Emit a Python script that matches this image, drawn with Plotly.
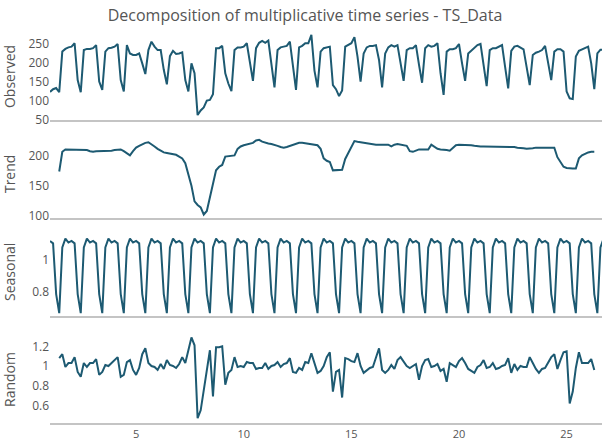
import plotly.graph_objects as go

start = 1
frequency = 7

observed = [124, 131, 134, 123, 230, 237, 241, 243, 252, 155,
            123, 234, 237, 237, 239, 247, 151, 129, 230, 239,
            240, 243, 250, 155, 125, 247, 225, 221, 221, 225,
            199, 171, 234, 256, 243, 234, 234, 182, 144, 218,
            232, 224, 225, 228, 155, 125, 199, 173, 63, 75,
            83, 101, 103, 118, 239, 239, 245, 173, 146, 126,
            234, 241, 241, 243, 252, 199, 153, 239, 253, 258,
            253, 259, 199, 136, 234, 241, 243, 245, 256, 186,
            129, 241, 245, 252, 252, 274, 180, 136, 230, 239,
            241, 243, 142, 131, 113, 128, 243, 247, 252, 268,
            217, 151, 225, 241, 245, 245, 247, 208, 136, 225,
            241, 247, 243, 247, 199, 153, 234, 239, 239, 247,
            195, 148, 239, 247, 243, 245, 252, 173, 116, 230,
            236, 236, 239, 250, 199, 153, 225, 232, 241, 247,
            250, 195, 139, 234, 239, 239, 243, 247, 190, 133,
            232, 243, 245, 241, 236, 189, 142, 221, 227, 230,
            234, 245, 199, 155, 230, 236, 236, 230, 125, 107,
            105, 217, 232, 236, 239, 243, 199, 131, 225, 235,
            235]

trend_points = [None, None, None, 174, 207, 211, 211, 211, 211, 211,
                211, 211, 210, 208, 207, 208, 208, 208, 209, 209,
                209, 210, 211, 211, 208, 204, 201, 208, 214, 217,
                220, 222, 223, 220, 216, 212, 209, 206, 205, 204,
                203, 202, 199, 196, 188, 171, 150, 124, 118, 114,
                102, 108, 130, 157, 176, 182, 185, 199, 200, 200,
                201, 212, 216, 218, 219, 220, 222, 226, 227, 224,
                222, 221, 220, 219, 217, 215, 214, 215, 217, 218,
                220, 222, 222, 221, 220, 220, 219, 218, 212, 196,
                192, 190, 176, 176, 176, 177, 195, 205, 214, 225,
                224, 223, 222, 221, 220, 219, 219, 219, 219, 219,
                219, 216, 219, 220, 219, 219, 217, 208, 207, 209,
                211, 211, 211, 211, 219, 215, 212, 211, 211, 210,
                209, 214, 218, 219, 219, 219, 219, 218, 217, 216,
                216, 216, 216, 216, 216, 216, 216, 216, 215, 215,
                216, 215, 214, 214, 213, 212, 212, 213, 214, 214,
                214, 214, 214, 214, 214, 198, 190, 182, 180, 179,
                179, 179, 196, 201, 204, 206, 207, 207, None, None,
                None]

seasonal_cycle = [1.12, 1.105, 0.785, 0.665, 1.08, 1.135, 1.11]

random_points = [None, None, None, 1.08, 1.12, 0.99, 1.03, 1.03, 1.09, 0.94,
                 0.89, 1.03, 0.99, 1.03, 1.03, 1.07, 0.91, 0.94, 1.01, 1.00,
                 1.03, 1.05, 1.09, 0.89, 0.91, 1.04, 1.06, 0.96, 0.91, 0.98,
                 1.12, 1.18, 1.03, 1.00, 0.99, 0.96, 1.02, 0.97, 1.06, 1.01,
                 1.00, 0.98, 1.02, 1.09, 1.03, 1.16, 1.29, 1.21, 0.47, 0.55,
                 0.74, 0.96, 1.16, 0.69, 1.19, 1.19, 1.20, 0.81, 0.93, 0.96,
                 1.09, 0.99, 1.00, 0.99, 1.04, 1.03, 1.03, 0.97, 0.98, 0.98,
                 1.03, 0.97, 1.00, 1.01, 1.04, 0.99, 1.02, 1.03, 1.08, 0.94,
                 0.93, 0.98, 0.96, 1.04, 1.03, 1.13, 1.03, 0.93, 0.95, 1.00,
                 1.09, 1.14, 0.74, 0.94, 0.96, 0.68, 1.08, 1.07, 1.05, 1.04,
                 1.13, 1.00, 0.93, 0.96, 0.98, 0.99, 1.08, 1.18, 0.96, 0.93,
                 0.96, 1.01, 0.97, 1.06, 1.09, 1.05, 1.00, 0.98, 1.00, 1.02,
                 0.86, 1.00, 1.06, 1.07, 0.99, 1.00, 1.02, 0.95, 0.97, 0.84,
                 1.03, 1.01, 0.99, 1.05, 1.08, 1.03, 0.97, 0.95, 0.93, 0.99,
                 1.01, 1.06, 0.98, 0.99, 1.03, 0.97, 0.98, 1.00, 1.01, 1.08,
                 0.93, 1.02, 0.96, 1.00, 0.99, 0.99, 1.09, 1.03, 0.97, 0.93,
                 0.97, 0.98, 1.04, 1.09, 1.12, 0.97, 1.06, 1.14, 1.15, 0.62,
                 0.74, 0.98, 1.14, 1.03, 1.03, 1.03, 1.07, 0.96, None, None,
                 None]

panel_names = ["Observed", "Trend", "Seasonal", "Random"]
y_tickvals = [[50, 100, 150, 200, 250], [100, 150, 200], [0.8, 1],
              [0.6, 0.8, 1, 1.2]]
x_tickvals = [5, 10, 15, 20, 25]

n = len(observed)
time = [start + k / frequency for k in range(n)]
seasonal = [seasonal_cycle[k % frequency] for k in range(n)]
series = [observed, trend_points, seasonal, random_points]

line_color = "#1d5a72"
font_family = "Open Sans, Verdana, sans-serif"

# panel pixel extents (top, bottom) in a 423-px tall plot area
plot_h = 423.0
panel_px = [(33, 120), (130, 217.7), (228, 315.7), (336, 423)]
y_ranges = [[50, 278.9], [96.65, 243.55], [0.6486, 1.2019], [0.4213, 1.3046]]

fig = go.Figure()
for k, (name, ys) in enumerate(zip(panel_names, series)):
    ax = "" if k == 0 else str(k + 1)
    fig.add_trace(go.Scatter(
        x=time, y=ys, mode="lines", name=name,
        line=dict(color=line_color, width=2),
        xaxis="x" + ax, yaxis="y" + ax, showlegend=False,
        connectgaps=False,
    ))
    top, bot = panel_px[k]
    dom = [(plot_h - bot) / plot_h, (plot_h - top) / plot_h]
    fig.layout["yaxis" + ax] = dict(
        domain=dom, range=y_ranges[k],
        tickmode="array", tickvals=y_tickvals[k],
        showgrid=False, zeroline=False, showline=False,
        title=dict(text=name, font=dict(size=14, color="#555")),
        tickfont=dict(size=12, color="#555"), anchor="x" + ax,
        automargin=False,
    )
    fig.layout["xaxis" + ax] = dict(
        range=[1, 26.644], showgrid=False, zeroline=False,
        showline=True, linecolor="#c4c4c4", linewidth=2,
        showticklabels=(k == 3), tickmode="array", tickvals=x_tickvals,
        tickfont=dict(size=11, color="#555"), anchor="y" + ax,
        matches=None if k == 0 else "x", automargin=False,
    )

fig.update_layout(
    width=602, height=440,
    margin=dict(l=50, r=0, t=0, b=17),
    paper_bgcolor="white", plot_bgcolor="white",
    font=dict(family=font_family, color="#555"),
    title=dict(text="Decomposition of multiplicative time series - TS_Data",
               x=305 / 602, xref="container", xanchor="center",
               y=1 - 15 / 440, yref="container", yanchor="middle",
               font=dict(size=16, color="#555")),
)

fig.write_html("out.html")
